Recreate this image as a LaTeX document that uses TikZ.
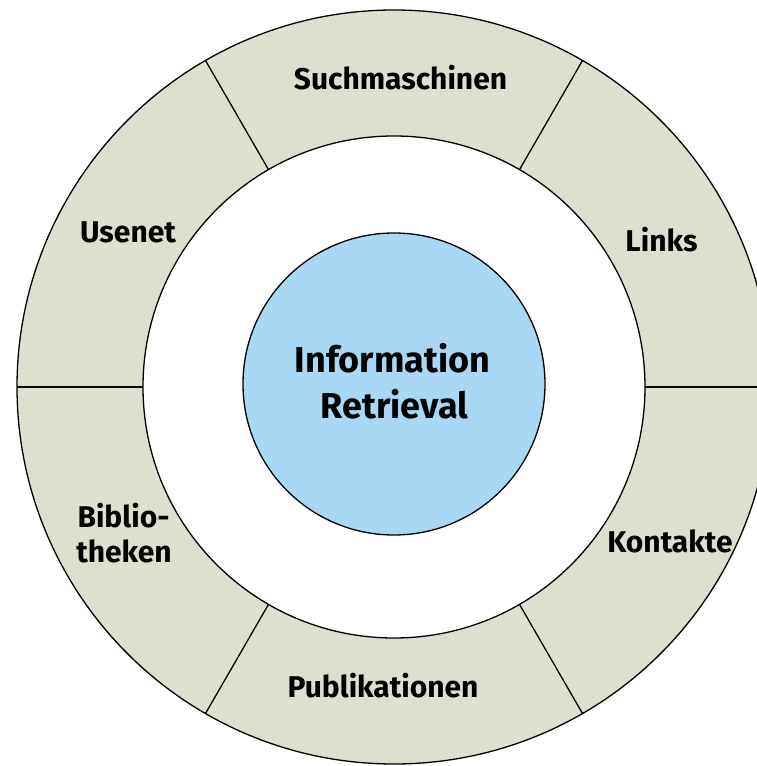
\documentclass[tikz,border=0pt]{standalone}
\usepackage{fontspec}
\setmainfont{Fira Sans}
\begin{document}
\begin{tikzpicture}[x=1pt,y=1pt,
    seglabel/.style={anchor=base, font=\fontsize{30}{35}\selectfont\bfseries, inner sep=0pt},
    centerlabel/.style={anchor=base, font=\fontsize{36}{46}\selectfont\bfseries, inner sep=0pt}]
        \definecolor{ringgray}{RGB}{221, 224, 206}
        \definecolor{irblue}{RGB}{168, 216, 243}
        \useasboundingbox (-394, -379) rectangle (363, 387);
        \clip (-394, -379) rectangle (363, 387);

        % ring, inner white disc, centre disc
        \filldraw[fill=ringgray, draw=black, line width=1.3pt] (0, 0) circle (377);
        \filldraw[fill=white, draw=black, line width=1.3pt] (0, 0) circle (251);
        \filldraw[fill=irblue, draw=black, line width=1.3pt] (0, 3) circle (151);

        \coordinate (in0) at (0:251);    \coordinate (out0) at (0:377);
        \coordinate (in60) at (60:251);  \coordinate (out60) at (60:377);
        \coordinate (in120) at (120:251); \coordinate (out120) at (120:377);
        \coordinate (in180) at (180:251); \coordinate (out180) at (180:377);
        \coordinate (in240) at (240:251); \coordinate (out240) at (240:377);
        \coordinate (in300) at (300:251); \coordinate (out300) at (300:377);

        \draw[line width=1.3pt] (in0) -- (out0);
        \draw[line width=1.3pt] (in60) -- (out60);
        \draw[line width=1.3pt] (in120) -- (out120);
        \draw[line width=1.3pt] (in180) -- (out180);
        \draw[line width=1.3pt] (in240) -- (out240);
        \draw[line width=1.3pt] (in300) -- (out300);

        \node[seglabel] (such) at (6.5, 297){Suchmaschinen};
        \node[seglabel] (links) at (267.5, 135){Links};
        \node[seglabel] (usenet) at (-266, 144){Usenet};
        \node[seglabel] (biblio) at (-270.5, -140){Biblio-};
        \node[seglabel] (theken) at (-270, -175){theken};
        \node[seglabel] (publ) at (-11, -310){Publikationen};
        \node[seglabel] (kont) at (276, -165){Kontakte};

        \node[centerlabel] (info) at (-1.5, 15){Information};
        \node[centerlabel] (retr) at (0.5, -31){Retrieval};
    \end{tikzpicture}
\end{document}
